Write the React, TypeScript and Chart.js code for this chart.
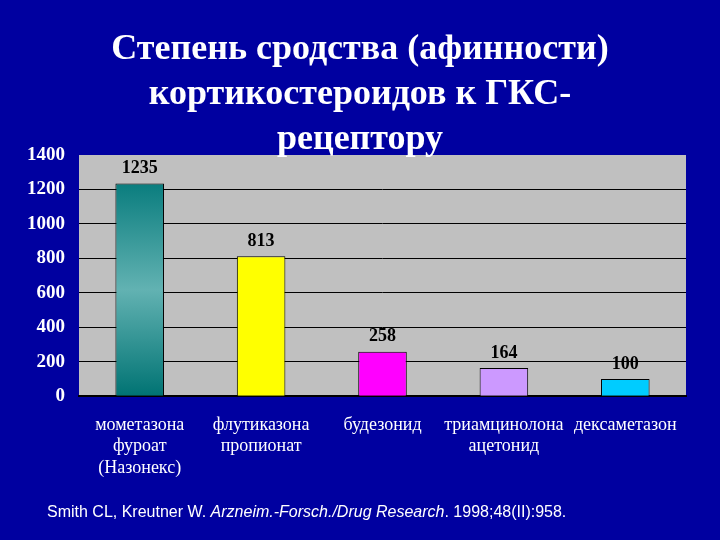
import React, { useEffect, useRef } from "react";
import { Chart, registerables } from "chart.js";

Chart.register(...registerables);

const titleLines = ["Степень сродства (афинности)", "кортикостероидов к ГКС-", "рецептору"];
const categories: string[][] = [
  ["мометазона", "фуроат", "(Назонекс)"],
  ["флутиказона", "пропионат"],
  ["будезонид"],
  ["триамцинолона", "ацетонид"],
  ["дексаметазон"],
];
const affinity = [1235, 813, 258, 164, 100];
const yTicksMax = 1400;
const yTicksStep = 200;

const BG = "#0000a0";
const PLOT = "#c0c0c0";
const SERIF = "'Liberation Serif', 'Times New Roman', serif";

const plotBg = {
  id: "plotBg",
  beforeDraw(chart: any) {
    const { ctx, chartArea } = chart;
    if (!chartArea) return;
    ctx.save();
    ctx.fillStyle = PLOT;
    ctx.fillRect(chartArea.left, chartArea.top, chartArea.right - chartArea.left, chartArea.bottom - chartArea.top);
    ctx.restore();
  },
};

const valueLabels = {
  id: "valueLabels",
  afterDatasetsDraw(chart: any) {
    const { ctx } = chart;
    const meta = chart.getDatasetMeta(0);
    ctx.save();
    ctx.font = `bold 18px ${SERIF}`;
    ctx.fillStyle = "#000";
    ctx.textAlign = "center";
    ctx.textBaseline = "middle";
    meta.data.forEach((el: any, i: number) => {
      ctx.fillText(String(affinity[i]), el.x, el.y - 15);
    });
    ctx.restore();
  },
};

function barFill(ctx: any) {
  const i = ctx.dataIndex;
  const chart = ctx.chart;
  const y = chart.scales?.y;
  if (i === 0 && y && chart.chartArea) {
    const top = y.getPixelForValue(affinity[0]);
    const bottom = y.getPixelForValue(0);
    const g = chart.ctx.createLinearGradient(0, top, 0, bottom);
    g.addColorStop(0, "#0a7d7e");
    g.addColorStop(0.5, "#62b2b2");
    g.addColorStop(1, "#007373");
    return g;
  }
  return ["#0a7d7e", "#ffff00", "#ff00ff", "#cc99ff", "#00ccff"][i];
}

export default function App() {
  const ref = useRef<HTMLCanvasElement>(null);
  useEffect(() => {
    if (!ref.current) return;
    const chart = new Chart(ref.current, {
      type: "bar",
      data: {
        labels: categories,
        datasets: [
          {
            data: affinity,
            yAxisID: "y",
            backgroundColor: barFill as any,
            borderColor: "#000",
            borderWidth: 1,
            categoryPercentage: 1,
            barPercentage: 0.4,
          },
        ],
      },
      options: {
        responsive: false,
        animation: false,
        layout: { padding: { left: 15, right: 15, top: 0, bottom: 51 } },
        plugins: {
          legend: { display: false },
          tooltip: { enabled: false },
          title: {
            display: true,
            text: titleLines,
            color: "#fff",
            font: { family: SERIF, size: 36, weight: "bold", lineHeight: 1.25 },
            padding: { top: 27, bottom: -7 },
          },
        },
        scales: {
          x: {
            grid: { display: false },
            border: { display: true, color: "#000", width: 2 },
            ticks: {
              color: "#fff",
              font: { family: SERIF, size: 18, lineHeight: 1.2 },
              padding: 10,
              maxRotation: 0,
              autoSkip: false,
            },
          },
          y: {
            position: "left",
            min: 0,
            max: yTicksMax,
            afterFit: (s: any) => {
              s.width = 64;
            },
            grid: {
              drawTicks: false,
              color: (c: any) => (c.tick && c.tick.value === yTicksMax ? "rgba(0,0,0,0)" : "#000"),
            },
            border: { display: false },
            ticks: {
              stepSize: yTicksStep,
              color: "#fff",
              font: { family: SERIF, size: 19, weight: "bold" },
              padding: 14,
              callback: (v: any) => String(v),
            },
          },
          yRight: {
            position: "right",
            min: 0,
            max: yTicksMax,
            afterFit: (s: any) => {
              s.width = 19;
            },
            grid: { display: false, drawOnChartArea: false },
            border: { display: false },
            ticks: { display: false },
          },
        },
      },
      plugins: [plotBg, valueLabels],
    });
    return () => chart.destroy();
  }, []);

  return (
    <div style={{ position: "fixed", left: 0, top: 0, width: 720, height: 540, background: BG, overflow: "hidden" }}>
      <canvas ref={ref} width={720} height={540} style={{ display: "block" }} />
      <div
        style={{
          position: "absolute",
          left: 47,
          top: 503,
          color: "#fff",
          fontFamily: "'Liberation Sans', Arial, sans-serif",
          fontSize: 16,
          whiteSpace: "nowrap",
        }}
      >
        Smith CL, Kreutner W. <i>Arzneim.-Forsch./Drug Research</i>. 1998;48(II):958.
      </div>
    </div>
  );
}
